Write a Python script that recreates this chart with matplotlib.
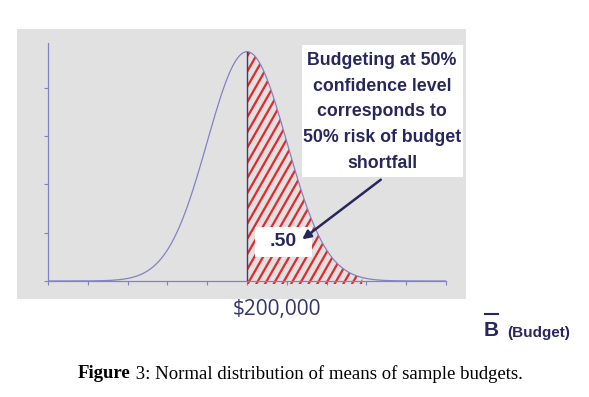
import numpy as np
import matplotlib.pyplot as plt
from matplotlib.patches import Rectangle

# values
mean_budget = 200000
sd_budget = 20000
peak_height = 4.75
shade_end = 258000
x_ticks = [mean_budget + k * sd_budget for k in range(-5, 6)]
y_ticks = [0, 1, 2, 3, 4]
risk_label = ".50"
box_text = "Budgeting at 50%\nconfidence level\ncorresponds to\n50% risk of budget\nshortfall"
mean_label = "$200,000"

navy = "#27275e"
curve_col = "#8282c2"
red = "#e8262a"

fig = plt.figure(figsize=(5.89, 3.97), dpi=100)
W, H = 589, 397

def fx(px):
    return px / W

def fy(py):
    return 1 - py / H

ax = fig.add_axes([fx(48), fy(281), fx(446) - fx(48), fy(43) - fy(281)])
ax.set_facecolor("none")
tf = fig.transFigure

def box(x0, y0, x1, y1, color, z):
    ax.add_patch(Rectangle((fx(x0), fy(y1)), fx(x1) - fx(x0), fy(y0) - fy(y1),
                           transform=tf, facecolor=color, edgecolor="none",
                           zorder=z, clip_on=False))

# gray panel behind the plot
box(17, 29, 466, 299, "#e1e1e1", -5)

ax.set_xlim(x_ticks[0], x_ticks[-1])
ax.set_ylim(0, 4.93)

x = np.linspace(x_ticks[0], x_ticks[-1], 600)
y = peak_height * np.exp(-0.5 * ((x - mean_budget) / sd_budget) ** 2)

# upper half shaded with steep red strokes
px_x = (x_ticks[-1] - x_ticks[0]) / (446 - 48)   # data per pixel
px_y = 4.93 / (281 - 43)
right = (x >= mean_budget) & (x <= shade_end)
area = ax.fill_between(x[right], -3 * px_y, y[right], facecolor="none",
                       edgecolor="none")
area.set_clip_box(None)
clip = area.get_paths()[0]
step = 8.7       # pixel spacing along the base
steep = 1.75     # rise per pixel across
rise = 245
for k in range(-30, 30):
    x0 = mean_budget + k * step * px_x
    ln, = ax.plot([x0, x0 + rise / steep * px_x], [-4 * px_y, (rise - 4) * px_y],
                  color=red, lw=1.6, zorder=2, solid_capstyle="butt")
    ln.set_clip_path(clip, ax.transData)
    ln.set_clip_box(None)

ax.plot(x, y, color=curve_col, lw=0.9, zorder=3)
ax.plot([mean_budget, mean_budget], [0, peak_height], color="#3c3c70", lw=1.0, zorder=3)

ax.set_xticks(x_ticks)
ax.set_yticks(y_ticks)
ax.set_xticklabels([])
ax.set_yticklabels([])
ax.tick_params(color=curve_col, length=3, width=0.8)
for s in ["top", "right"]:
    ax.spines[s].set_visible(False)
for s in ["left", "bottom"]:
    ax.spines[s].set_color(curve_col)
    ax.spines[s].set_linewidth(0.9)

# annotation box
box(302, 45, 463, 177, "white", 4)
ax.text(fx(382), fy(112), box_text, transform=tf, ha="center", va="center",
        color=navy, fontsize=12.8, fontweight="bold", family="Liberation Sans",
        linespacing=1.68, zorder=5, clip_on=False)

box(255, 227, 312, 257, "white", 4)
ax.text(fx(283), fy(242), risk_label, transform=tf, ha="center", va="center",
        color=navy, fontsize=14, fontweight="bold", family="Liberation Sans",
        zorder=5, clip_on=False)

ax.annotate("", xy=(fx(300), fy(241)), xycoords="figure fraction",
            xytext=(fx(383), fy(178)), textcoords="figure fraction",
            arrowprops=dict(arrowstyle="-|>,head_length=0.5,head_width=0.25",
                            color=navy, lw=1.8), zorder=6)

ax.text(fx(277), fy(309), mean_label, transform=tf, ha="center", va="center",
        color="#35356e", fontsize=15, family="Open Sans", clip_on=False)
ax.text(fx(491), fy(331), "B", transform=tf, ha="center", va="center", color=navy,
        fontsize=15, fontweight="bold", family="Liberation Sans", clip_on=False)
ax.plot([fx(485), fx(498)], [fy(314), fy(314)], transform=tf, color=navy,
        lw=1.5, clip_on=False)
ax.text(fx(507), fy(333), "(Budget)", transform=tf, ha="left", va="center",
        color=navy, fontsize=11, fontweight="bold", family="Liberation Sans",
        clip_on=False)

# caption: bold "Figure" followed by the rest
fig.canvas.draw()
r = fig.canvas.get_renderer()
t1 = fig.text(fx(78), fy(374), "Figure", ha="left", va="center", color="black",
              fontsize=13.5, fontweight="bold", family="Liberation Serif")
bb = t1.get_window_extent(renderer=r)
fig.text(bb.x1 / fig.dpi / fig.get_figwidth(), fy(374),
         " 3: Normal distribution of means of sample budgets.", ha="left",
         va="center", color="black", fontsize=13.5, family="Liberation Serif")

fig.savefig("out.png", dpi=100)
